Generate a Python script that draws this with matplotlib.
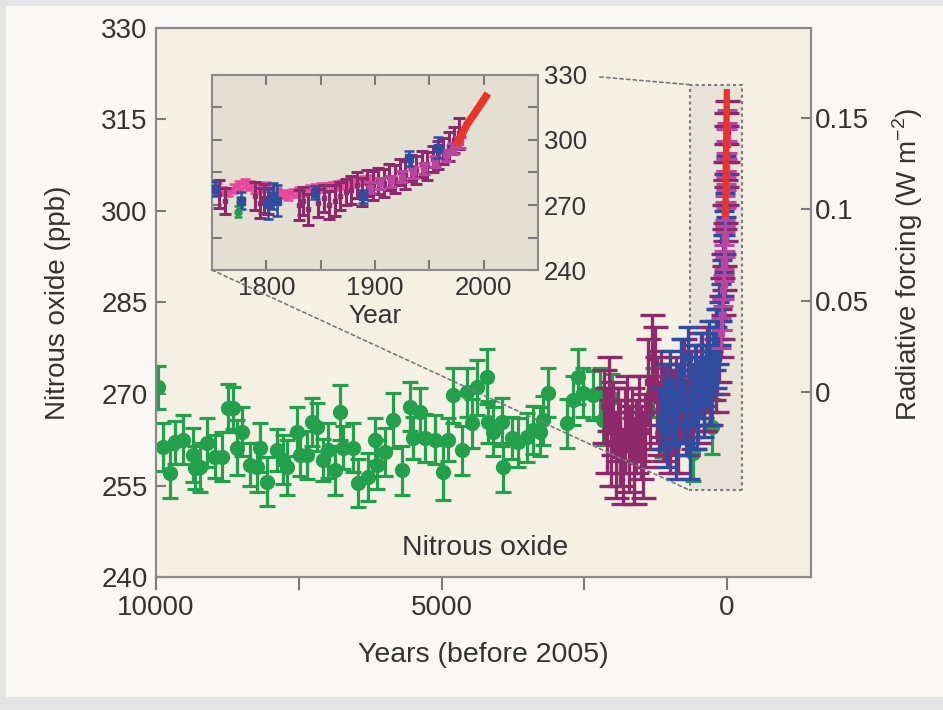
import matplotlib.pyplot as plt
from matplotlib.patches import Rectangle, ConnectionPatch

plt.rcParams['font.family'] = ['Liberation Sans', 'DejaVu Sans']
plt.rcParams['text.color'] = '#333333'
plt.rcParams['axes.labelcolor'] = '#333333'
plt.rcParams['xtick.color'] = '#7a7a7a'
plt.rcParams['ytick.color'] = '#7a7a7a'
plt.rcParams['xtick.labelcolor'] = '#333333'
plt.rcParams['ytick.labelcolor'] = '#333333'

# ---- main panel: years before 2005 ----
green_bp = [9963, 9876, 9753, 9666, 9525, 9350, 9315, 9228, 9105, 8965, 8843, 8737, 8650, 8580,
            8492, 8352, 8230, 8177, 8055, 7880, 7774, 7704, 7529, 7477, 7354, 7267, 7179, 7074,
            6987, 6864, 6776, 6724, 6549, 6461, 6286, 6164, 6129, 5988, 5848, 5691, 5551, 5498,
            5376, 5288, 5113, 4973, 4885, 4798, 4640, 4553, 4465, 4378, 4202, 4185, 4097, 3940,
            3922, 3765, 3660, 3502, 3397, 3274, 3222, 3134, 2802, 2697, 2609, 2521, 2346, 2224,
            2171, 2014, 1296, 1138, 1121, 595, 263]
green_ppb = [271.1, 261.3, 257.0, 262.1, 262.5, 260.0, 257.9, 258.0, 262.0, 259.7, 259.7, 267.7,
             267.7, 261.2, 263.8, 258.4, 258.0, 261.2, 255.6, 260.8, 259.2, 258.0, 263.8, 260.0,
             260.0, 265.4, 264.6, 259.2, 260.8, 257.5, 267.0, 261.2, 261.2, 255.4, 256.4, 262.5,
             258.4, 260.5, 265.7, 257.5, 267.9, 262.8, 267.0, 262.8, 262.5, 257.2, 262.5, 269.8,
             260.8, 270.3, 265.2, 271.1, 272.8, 265.4, 263.8, 265.4, 258.0, 262.8, 262.1, 262.9,
             264.1, 263.8, 265.7, 270.2, 265.2, 269.0, 272.8, 270.2, 269.8, 270.2, 265.7, 269.3,
             270.2, 263.6, 263.0, 260.3, 264.6]
green_err = [3.5, 4, 4, 3.5, 4, 4.5, 3.5, 4, 4, 3.5, 4, 4, 3.5, 4.5, 4, 3.5, 4, 4, 4, 3.5,
             4, 4.5, 4, 3.5, 4, 4, 4, 3.5, 4.5, 4, 4.5, 3.5, 4, 4, 4, 3.5, 4, 4, 4.5, 4,
             4, 3.5, 4, 4, 4, 4.5, 3.5, 4.5, 4, 4, 4, 4.5, 4.5, 3.5, 4, 4, 4, 3.5, 4, 4,
             4, 4, 4, 4, 4, 4, 4.5, 4, 4, 4, 4, 4, 4, 4, 4, 4.5, 4.5]

maroon_bp = [2150, 2110, 2070, 2030, 1990, 1950, 1910, 1870, 1830, 1790, 1750, 1710, 1670, 1630,
             1590, 1550, 1510, 1470, 1430, 1390, 1350, 1310, 1270, 1230, 1190, 1150, 1100, 1050,
             1000, 950, 900, 850, 800, 750, 700, 650, 600, 550, 500, 450, 400, 350, 300, 250,
             200, 170, 140, 110, 90, 70, 55, 45, 35, 28, 22, 16, 12, 8]
maroon_ppb = [268, 264, 270, 262, 266, 260, 265, 262, 258, 264, 267, 261, 265, 259,
              263, 266, 262, 260, 264, 272, 267, 276, 275, 269, 266, 270, 265, 268,
              263, 267, 270, 264, 268, 272, 266, 270, 267, 271, 268, 273, 270, 274, 271, 275,
              273, 276, 278, 281, 284, 288, 292, 296, 300, 303, 306, 309, 311, 313]
maroon_err = [6, 7, 6, 7, 6, 7, 6, 7, 6, 7, 6, 7, 6, 7, 6, 7, 6, 7, 6, 7, 6, 7, 6, 7, 6, 7, 6, 7,
              6, 7, 6, 7, 6, 7, 6, 7, 6, 7, 6, 7, 6, 7, 6, 6, 6, 6, 6, 5, 5, 5, 5, 5, 5, 5, 5, 5, 5, 5]

blue_bp = [1150, 1100, 1050, 1000, 950, 900, 850, 800, 760, 720, 680, 640, 600, 560, 520, 480,
           440, 400, 360, 320, 280, 240, 200, 170, 140, 110, 85, 65, 50, 38, 28, 20]
blue_ppb = [266, 270, 264, 272, 267, 262, 270, 274, 268, 265, 276, 262, 270, 273, 267, 271,
            275, 269, 273, 277, 271, 275, 279, 276, 280, 283, 287, 291, 295, 298, 301, 304]
blue_err = [5, 5, 6, 5, 5, 6, 5, 5, 6, 5, 5, 6, 5, 5, 6, 5,
            5, 6, 5, 5, 6, 5, 5, 5, 5, 5, 5, 5, 5, 5, 5, 5]

mag_bp = [100, 90, 80, 70, 60, 50, 45, 40, 35, 30, 27, 24, 21, 18, 15, 12, 10, 8, 6, 4]
mag_ppb = [280, 283, 283, 287, 288, 291, 292, 295, 296, 299, 300, 303, 304, 306, 307, 309,
           311, 311, 312, 314]

red_bp = [29, 25, 20, 15, 11, 7, 3]
red_ppb = [299, 302.5, 307.5, 311, 314, 317, 320]

# ---- inset: calendar years ----
pink_yr = [1750, 1755, 1760, 1765, 1770, 1775, 1780, 1785, 1790, 1795, 1800, 1805, 1810, 1815,
           1820, 1825, 1830, 1835, 1840, 1845, 1850, 1855, 1860, 1865, 1870, 1875, 1880, 1885,
           1890, 1895]
pink_ppb = [277, 278, 276.5, 276, 277.5, 279, 280, 279, 277.5, 278, 278.5, 277, 276, 275,
            274.5, 275.5, 276.5, 276, 277, 277.5, 278, 278, 278.5, 279, 279.5, 280, 280.5, 281,
            281.5, 282]

imar_yr = [1756, 1762, 1790, 1794, 1798, 1802, 1830, 1834, 1838, 1848, 1853, 1858, 1863, 1868,
           1873, 1878, 1883, 1888, 1893, 1898, 1903, 1908, 1913, 1918, 1923, 1928, 1933, 1938,
           1943, 1948, 1953, 1958, 1963, 1968, 1973, 1977]
imar_ppb = [275, 272, 274, 271, 273, 272, 270, 272, 268, 271, 273, 270, 272, 274, 276, 277,
            279, 276, 280, 279, 281, 280, 283, 282, 285, 284, 287, 286, 289, 288, 291, 293,
            295, 297, 300, 303]
imar_err = [6.5, 6, 6.5, 7, 6.5, 6, 7, 6.5, 7, 6.5, 6, 6.5, 7, 6.5, 6, 6.5, 6, 6.5, 6, 6.5,
            6, 6.5, 6, 6.5, 6, 6.5, 6, 6.5, 6, 6.5, 6, 6.5, 6, 6.5, 6, 7]

imag_yr = [1895, 1905, 1915, 1925, 1935, 1945, 1955, 1965, 1972, 1978]
imag_ppb = [278, 280, 281, 283, 285, 287, 290, 293, 296, 299]

iblue_yr = [1753, 1777, 1802, 1806, 1810, 1845, 1889, 1931, 1958]
iblue_ppb = [277.5, 272, 270.5, 274, 272, 275.7, 274, 291.5, 296.5]
iblue_err = [3.5, 4, 7, 6, 7, 3, 3, 3.5, 5]

igreen_yr = [1774, 1776]
igreen_ppb = [267, 271.5]
igreen_err = [2.5, 2]

ired_yr = [1976, 1980, 1985, 1990, 1994, 1998, 2002]
ired_ppb = [299, 302.5, 307.5, 311, 314, 317, 320]

GREEN = '#22a04b'
MAROON = '#8c2a6c'
BLUE = '#2f4c9f'
MAGENTA = '#b8459f'
PINK = '#e8469c'
RED = '#ea3428'
SPINE = '#8a8a8a'

fig = plt.figure(figsize=(9.43, 7.10), dpi=100)
fig.patch.set_facecolor('#e4e4e4')
fig.add_artist(Rectangle((0.0064, 0.018), 0.9936, 0.9736, transform=fig.transFigure,
                         facecolor='#faf8f4', edgecolor='none', zorder=-1))

ax = fig.add_axes([0.1654, 0.1873, 0.6946, 0.7733])
ax.set_facecolor('#f5f0e4')
ax.set_xlim(10000, -1470)
ax.set_ylim(240, 330)

# zoom box
ax.add_patch(Rectangle((-257, 254.2), 903, 66.5, facecolor='#e7e3d9', edgecolor='#7a7a7a',
                       linestyle=(0, (1.5, 1.5)), linewidth=1.5, zorder=1))

ax.errorbar(green_bp, green_ppb, yerr=green_err, fmt='o', color=GREEN, ms=10,
            elinewidth=2.3, capsize=6, capthick=2.3, zorder=3)
ax.errorbar(maroon_bp, maroon_ppb, yerr=maroon_err, fmt='s', color=MAROON, ms=5,
            elinewidth=2.4, capsize=9, capthick=2.4, zorder=4)
ax.errorbar(blue_bp, blue_ppb, yerr=blue_err, fmt='s', color=BLUE, ms=6,
            elinewidth=2.4, capsize=7, capthick=2.4, zorder=5)
ax.errorbar(mag_bp, mag_ppb, yerr=2.5, fmt='s', color=MAGENTA, ms=5,
            elinewidth=2.2, capsize=7, capthick=2.2, zorder=6)
ax.plot(red_bp, red_ppb, color=RED, lw=4.5, solid_capstyle='butt', zorder=7)

ax.set_xticks([10000, 5000, 0])
ax.set_xticklabels(['10000', '5000', '0'])
ax.set_xticks([7500, 2500], minor=True)
ax.set_yticks(range(240, 331, 15))
ax.tick_params(axis='x', which='both', direction='out', length=9, width=1.5, labelsize=20, pad=4)
ax.tick_params(axis='y', direction='in', length=7, width=1.5, labelsize=20, pad=6)
for s in ax.spines.values():
    s.set_color(SPINE)
    s.set_linewidth(1.5)
ax.set_ylabel('Nitrous oxide (ppb)', fontsize=20, labelpad=22)
ax.set_xlabel('Years (before 2005)', fontsize=20.5, labelpad=15)
ax.text(0.502, 0.053, 'Nitrous oxide', transform=ax.transAxes, ha='center', va='center',
        fontsize=20.5)

# radiative forcing axis
ax2 = ax.twinx()
ax2.set_ylim((240 - 270.3) / 300, (330 - 270.3) / 300)
ax2.set_yticks([0, 0.05, 0.1, 0.15])
ax2.set_yticklabels(['0', '0.05', '0.1', '0.15'])
ax2.tick_params(axis='y', direction='in', length=7, width=1.5, labelsize=20, pad=3)
for s in ax2.spines.values():
    s.set_color(SPINE)
    s.set_linewidth(1.5)
ax2.set_ylabel('Radiative forcing (W m$^{\\mathregular{-2}}$)', fontsize=20)
ax2.yaxis.set_label_coords(1.122, 0.57)

# inset
axins = fig.add_axes([0.2248, 0.6197, 0.3457, 0.2747])
axins.set_facecolor('#e4dfd3')
axins.set_xlim(1750, 2050)
axins.set_ylim(240, 330)

axins.errorbar(pink_yr, pink_ppb, yerr=2, fmt='-o', color=PINK, mfc='none', ms=4.5, lw=1.8,
               elinewidth=1.8, capsize=3.5, capthick=1.8, zorder=2)
axins.errorbar(imar_yr, imar_ppb, yerr=imar_err, fmt='s', color=MAROON, ms=3.5,
               elinewidth=2.2, capsize=4.5, capthick=2.2, zorder=3)
axins.errorbar(imag_yr, imag_ppb, yerr=2.5, fmt='s', color=MAGENTA, ms=4.5,
               elinewidth=2.2, capsize=4.5, capthick=2.2, zorder=4)
axins.errorbar(igreen_yr, igreen_ppb, yerr=igreen_err, fmt='o', color=GREEN, ms=5,
               elinewidth=1.8, capsize=3, capthick=1.8, zorder=5)
axins.errorbar(iblue_yr, iblue_ppb, yerr=iblue_err, fmt='s', color=BLUE, ms=5.5,
               elinewidth=1.8, capsize=3.5, capthick=1.8, zorder=5)
axins.plot(ired_yr, ired_ppb, color=RED, lw=5.5, zorder=6)

axins.set_xticks([1800, 1900, 2000])
axins.set_xticks([1850, 1950], minor=True)
axins.set_yticks([240, 270, 300, 330])
axins.set_yticks([255, 285, 315], minor=True)
axins.tick_params(which='both', direction='in', top=True, right=True, left=True, bottom=True,
                  labelleft=False, labelright=True, length=7, width=1.5, labelsize=18.5, pad=4)
for s in axins.spines.values():
    s.set_color(SPINE)
    s.set_linewidth(1.5)
axins.set_xlabel('Year', fontsize=19, labelpad=3)

# connector lines from inset to zoom box
for xyA, xyB in [((1.19, 0.99), (646, 320.7)), ((0, 0), (646, 254.2))]:
    con = ConnectionPatch(xyA=xyA, coordsA=axins.transAxes, xyB=xyB, coordsB=ax.transData,
                          color='#7a7a7a', linestyle=(0, (2, 2)), linewidth=1.2)
    fig.add_artist(con)

fig.savefig('out.png', dpi=100, facecolor=fig.get_facecolor())
